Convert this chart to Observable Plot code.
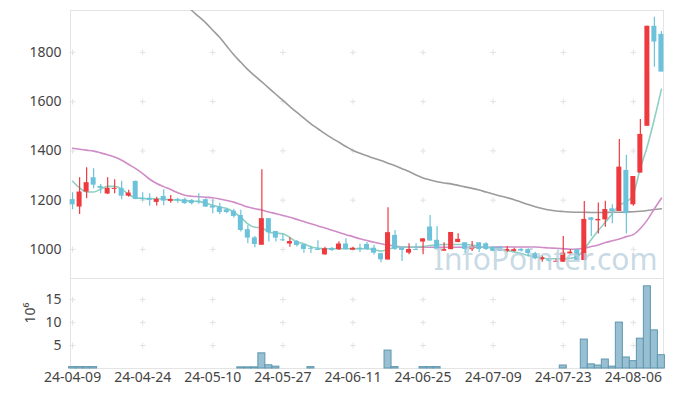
<!DOCTYPE html>
<html><head><meta charset="utf-8">
<script src="https://cdn.jsdelivr.net/npm/d3@7"></script>
<script src="https://cdn.jsdelivr.net/npm/@observablehq/plot@0.6"></script>
<style>
html,body{margin:0;padding:0;background:#fff;}
#chart{width:673px;height:396px;position:relative;}
#chart svg{display:block;}
</style></head><body><div id="chart"></div>
<script>
const dates = ["24-04-09","24-04-11","24-04-12","24-04-15","24-04-16","24-04-17","24-04-18","24-04-19","24-04-22","24-04-23",
"24-04-24","24-04-25","24-04-26","24-04-29","24-04-30","24-05-02","24-05-03","24-05-07","24-05-08","24-05-09",
"24-05-10","24-05-13","24-05-14","24-05-16","24-05-17","24-05-20","24-05-21","24-05-22","24-05-23","24-05-24",
"24-05-27","24-05-28","24-05-29","24-05-30","24-05-31","24-06-03","24-06-04","24-06-05","24-06-07","24-06-10",
"24-06-11","24-06-12","24-06-13","24-06-14","24-06-17","24-06-18","24-06-19","24-06-20","24-06-21","24-06-24",
"24-06-25","24-06-26","24-06-27","24-06-28","24-07-01","24-07-02","24-07-03","24-07-04","24-07-05","24-07-08",
"24-07-09","24-07-10","24-07-11","24-07-12","24-07-15","24-07-16","24-07-17","24-07-18","24-07-19","24-07-22",
"24-07-23","24-07-24","24-07-25","24-07-26","24-07-29","24-07-30","24-07-31","24-08-01","24-08-02","24-08-05",
"24-08-06","24-08-07","24-08-08","24-08-09","24-08-12"];

const open  = [1202,1172,1233,1291,1256,1225,1244,1248,1216,1276, 1208,1208,1191,1215,1195,1203,1202,1199,1196,1202,
 1176,1172,1161,1155,1138,1080,1047,1017,1125,1073, 1039,1022,1032,1019,1004,1000,978,1004,999,1022,
 997,1005,1020,1005,983,957,1057,1005,985,1000, 1030,1091,1037,993,999,1028,1027,999,1027,1023,
 1009,1009,992,992,1000,999,983,958,958,948, 948,982,999,955,1128,1116,1120,1165,1154,1321,
 1181,1310,1500,1906,1873];
const high  = [1230,1291,1332,1328,1264,1291,1283,1277,1240,1278, 1230,1226,1212,1242,1219,1208,1208,1203,1226,1206,
 1202,1188,1165,1163,1159,1097,1053,1324,1125,1073, 1064,1047,1036,1020,1013,1035,1009,1008,1031,1043,
 1009,1021,1028,1017,985,1169,1077,1009,1023,1023, 1043,1138,1093,1027,1069,1064,1027,1032,1027,1027,
 1012,1012,1012,1005,1004,1003,989,973,962,962, 1053,1000,1000,1195,1130,1189,1196,1181,1446,1382,
 1296,1528,1906,1943,1885];
const low   = [1161,1142,1206,1246,1226,1223,1226,1202,1212,1202, 1196,1175,1176,1177,1188,1188,1183,1180,1183,1170,
 1145,1142,1145,1128,1071,1023,1007,1017,1030,1030, 1032,1009,1010,985,983,996,976,992,996,996,
 997,988,996,977,946,957,996,951,978,996, 978,1034,1000,993,999,1027,983,992,988,996,
 992,992,987,990,990,969,958,948,948,948, 948,978,955,955,1051,1063,1090,1104,1154,1063,
 1175,1310,1500,1740,1720];
const close = [1181,1233,1271,1261,1248,1248,1248,1216,1229,1203, 1203,1199,1203,1196,1203,1198,1186,1186,1192,1172,
 1168,1150,1150,1134,1077,1046,1020,1125,1068,1046, 1035,1032,1016,1000,1001,996,1003,996,1022,1000,
 1005,999,1000,985,958,1068,1000,996,1000,996, 1043,1034,1000,1000,1069,1041,1000,1012,1000,1000,
 992,992,1000,999,993,983,962,966,952,952, 985,989,955,1122,1118,1122,1162,1154,1334,1145,
 1296,1467,1906,1842,1720];

// volume, millions of shares
const volume = [0.3,0.3,0.3,0.3,0,0,0,0,0,0, 0,0,0,0,0,0,0,0,0,0,
 0,0,0,0,0.25,0.25,0.25,3.3,0.7,0.4, 0,0,0,0,0.3,0,0,0,0,0,
 0,0,0,0,0,3.9,0.3,0,0,0, 0.3,0.3,0.3,0,0,0,0,0,0,0,
 0,0,0,0,0,0,0,0,0,0, 0.65,0,0,6.3,0.9,0.65,1.95,0.4,10.0,2.4,
 1.6,6.5,17.9,8.3,2.9];

// moving averages
const ma5  = [1277,1250,1233,1233,1245,1256,1256,1246,1223,1210, 1207,1206,1206,1204,1202,1200,1198,1196,1194,1188,
 1179,1172,1166,1152,1130,1104,1090,1088,1070,1066, 1064,1048,1030,1023,1010,1005,1003,1003,1003,1003,
 1003,1003,1003,999,993,1000,1009,1010,1010,1010, 1012,1016,1018,1020,1020,1020,1020,1018,1012,1009,
 1005,1000,996,990,983,976,970,966,962,962, 962,964,970,1003,1040,1077,1110,1145,1180,1192,
 1225,1330,1420,1530,1650];
const ma20 = [1411,1407,1403,1399,1392,1384,1375,1362,1345,1328, 1308,1285,1268,1255,1243,1230,1220,1216,1214,1212,
 1210,1205,1199,1192,1182,1172,1165,1160,1152,1145, 1138,1131,1122,1113,1104,1095,1087,1078,1069,1060,
 1052,1043,1036,1029,1023,1018,1014,1010,1009,1009, 1009,1009,1009,1009,1009,1009,1009,1009,1009,1009,
 1009,1010,1010,1010,1010,1010,1010,1008,1006,1005, 1003,1001,1002,1005,1012,1018,1028,1035,1042,1052,
 1060,1085,1120,1165,1208];
const ma60 = [null,null,null,null,null,null,null,null,null,null, null,null,null,null,null,null,2000,1970,1945,1920,
 1890,1860,1825,1790,1760,1730,1705,1680,1655,1630, 1605,1580,1556,1533,1510,1490,1470,1452,1435,1418,
 1402,1390,1380,1370,1361,1350,1340,1328,1316,1302, 1290,1282,1275,1270,1266,1260,1254,1248,1241,1233,
 1225,1217,1210,1202,1192,1182,1173,1166,1160,1156, 1154,1152,1151,1151,1150,1150,1150,1151,1151,1152,
 1153,1155,1158,1162,1165];

const xTicks = [0,10,20,30,40,50,60,70,80];
const priceTicks = [1000,1200,1400,1600,1800];
const volTicks = [5,10,15];

const days = dates.map((d, i) => ({
  i, date: d, o: open[i], h: high[i], l: low[i], c: close[i],
  up: close[i] >= open[i], v: volume[i], m5: ma5[i], m20: ma20[i], m60: ma60[i]
}));

const RED = "#ee3a3f", BLUE = "#6cc2da";
const xDomain = [-0.3, 84.3];
const ML = 70, MR = 10;
const font = "'Noto Sans', 'DejaVu Sans', sans-serif";
const grid = (xs, ys) => xs.flatMap(x => ys.map(y => ({x, y})));

const main = Plot.plot({
  width: 673, height: 278,
  marginTop: 10, marginBottom: 0, marginLeft: ML, marginRight: MR,
  style: {fontFamily: font, fontSize: "14px", color: "#444", background: "transparent", overflow: "visible"},
  x: {domain: xDomain, axis: null},
  y: {domain: [882, 1970], ticks: priceTicks, tickSize: 0, tickPadding: 9, label: null, tickFormat: d => String(d)},
  marks: [
    Plot.frame({stroke: "#e4e4e4"}),
    Plot.dot(grid(xTicks, priceTicks), {x: "x", y: "y", symbol: "plus", r: 2, stroke: "#e2e2e2", strokeWidth: 1}),
    Plot.line(days.filter(d => d.m60 != null), {x: "i", y: "m60", stroke: "#9b9b9b", strokeWidth: 1.6, curve: "monotone-x", clip: true}),
    Plot.line(days, {x: "i", y: "m20", stroke: "#cf8cc6", strokeWidth: 1.6, curve: "monotone-x"}),
    Plot.line(days, {x: "i", y: "m5", stroke: "#8dd0c2", strokeWidth: 1.6, curve: "monotone-x"}),
    Plot.ruleX(days, {x: "i", y1: "l", y2: "h", stroke: d => d.up ? RED : BLUE, strokeWidth: 1.2}),
    Plot.rect(days, {
      x1: d => d.i - 0.5, x2: d => d.i + 0.5, insetLeft: 1, insetRight: 1,
      y1: d => Math.min(d.o, d.c), y2: d => Math.max(d.o, d.c),
      fill: d => d.up ? RED : BLUE
    }),
    Plot.text(["InfoPointer.com"], {
      frameAnchor: "bottom-right", dx: -6, dy: -9, textAnchor: "end", lineAnchor: "bottom",
      fontSize: 30, fill: "#b9d0dd", fillOpacity: 0.8, fontFamily: font
    })
  ]
});

const vol = Plot.plot({
  width: 673, height: 118,
  marginTop: 0, marginBottom: 28, marginLeft: ML, marginRight: MR,
  style: {fontFamily: font, fontSize: "14px", color: "#444", background: "transparent", overflow: "visible"},
  x: {domain: xDomain, ticks: xTicks, tickFormat: i => dates[i], tickSize: 0, tickPadding: 4, label: null},
  y: {domain: [0, 19.6], ticks: volTicks, tickSize: 0, tickPadding: 9, label: null},
  marks: [
    Plot.frame({stroke: "#e4e4e4"}),
    Plot.dot(grid(xTicks, volTicks), {x: "x", y: "y", symbol: "plus", r: 2, stroke: "#e2e2e2", strokeWidth: 1}),
    Plot.rect(days.filter(d => d.v > 0), {
      x1: d => d.i - 0.5, x2: d => d.i + 0.5, y1: 0, y2: "v",
      fill: "#98c0d2", stroke: "#5d97b0", strokeWidth: 1
    }),
    Plot.text(["10⁶"], {frameAnchor: "left", dx: -40, rotate: -90, fontSize: 14, fill: "#444", fontFamily: font})
  ]
});

const el = document.getElementById("chart");
el.appendChild(main);
el.appendChild(vol);
</script></body></html>
